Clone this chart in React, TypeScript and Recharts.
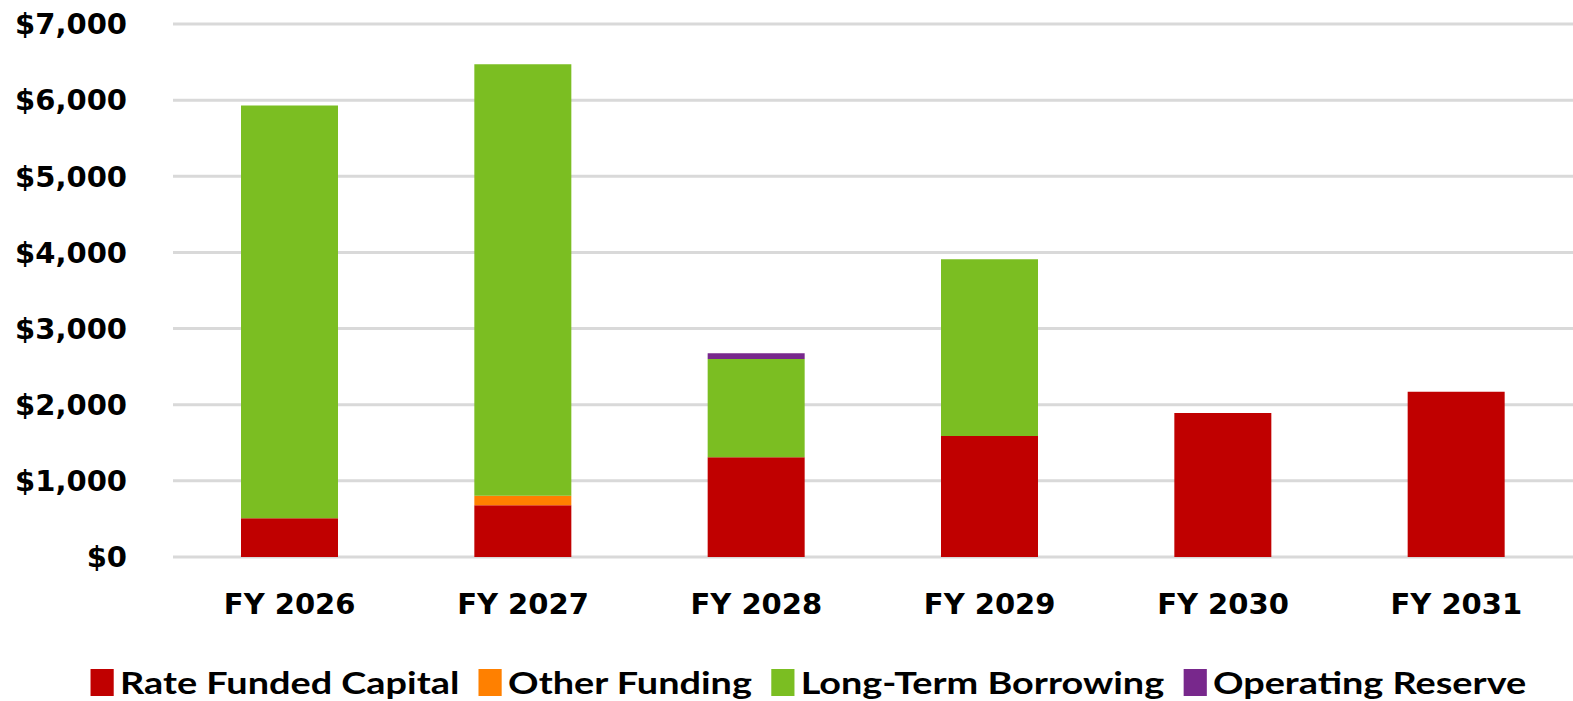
import { BarChart, Bar, XAxis, YAxis, CartesianGrid, Legend } from 'recharts';

// Capital funding by fiscal year ($ thousands)
const years = ['FY 2026', 'FY 2027', 'FY 2028', 'FY 2029', 'FY 2030', 'FY 2031'];
const rateFunded = [510, 680, 1310, 1590, 1890, 2170];
const otherFunding = [0, 125, 0, 0, 0, 0];
const longTermBorrowing = [5420, 5665, 1290, 2320, 0, 0];
const operatingReserve = [0, 0, 75, 0, 0, 0];
const yTicks = [0, 1000, 2000, 3000, 4000, 5000, 6000, 7000];

const series = [
  { key: 'rate', name: 'Rate Funded Capital', color: '#C00000' },
  { key: 'other', name: 'Other Funding', color: '#FF8000' },
  { key: 'ltb', name: 'Long-Term Borrowing', color: '#7BBE22' },
  { key: 'reserve', name: 'Operating Reserve', color: '#78288C' },
];

const data = years.map((name, i) => ({
  name,
  rate: rateFunded[i],
  other: otherFunding[i],
  ltb: longTermBorrowing[i],
  reserve: operatingReserve[i],
}));

const axisFont = { fill: '#000', fontSize: 29, fontWeight: 700, fontFamily: 'DejaVu Sans' };

function LegendContent() {
  // the source legend is a stretched condensed bold face, so widen Lato a bit
  return (
    <div
      style={{
        display: 'flex',
        justifyContent: 'center',
        alignItems: 'center',
        gap: 16,
        fontFamily: 'Lato',
        fontWeight: 700,
        fontSize: 31,
        transform: 'translateX(22px) scaleX(1.22)',
        transformOrigin: 'center',
      }}
    >
      {series.map(s => (
        <div key={s.key} style={{ display: 'flex', alignItems: 'center', gap: 5 }}>
          <span style={{ width: 19, height: 27, background: s.color, display: 'inline-block' }} />
          <span style={{ color: '#000' }}>{s.name}</span>
        </div>
      ))}
    </div>
  );
}

export default function App() {
  return (
    <div style={{ position: 'absolute', left: 0, top: 0, width: 1573, height: 701, background: '#fff' }}>
      <BarChart width={1573} height={701} data={data} margin={{ top: 24, right: 0, left: 0, bottom: 44 }} barSize={97}>
        <CartesianGrid vertical={false} stroke="#d9d9d9" strokeWidth={3} />
        <XAxis
          dataKey="name"
          axisLine={false}
          tickLine={false}
          tickSize={0}
          tickMargin={36}
          height={60}
          tick={axisFont}
        />
        <YAxis
          domain={[0, 7000]}
          ticks={yTicks}
          width={173}
          axisLine={false}
          tickLine={false}
          tickSize={0}
          tickMargin={46}
          tick={axisFont}
          tickFormatter={(v: number) => `$${v.toLocaleString('en-US')}`}
        />
        <Legend
          verticalAlign="bottom"
          content={<LegendContent />}
          wrapperStyle={{ top: 663, bottom: 'auto', left: 0, width: 1573, height: 40 }}
        />
        {series.map(s => (
          <Bar key={s.key} dataKey={s.key} name={s.name} stackId="a" fill={s.color} isAnimationActive={false} />
        ))}
      </BarChart>
    </div>
  );
}
